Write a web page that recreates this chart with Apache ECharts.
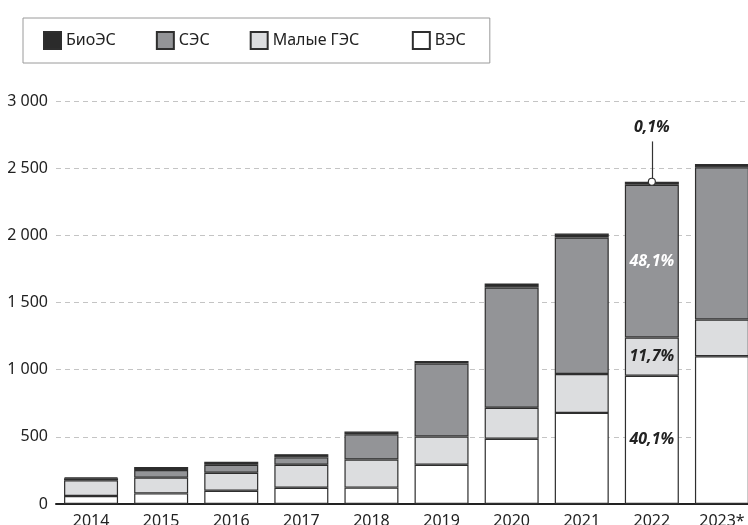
<!DOCTYPE html>
<html>
<head>
<meta charset="utf-8">
<title>ВИЭ</title>
<script src="https://cdn.jsdelivr.net/npm/echarts@6/dist/echarts.min.js"></script>
<style>
	html, body { margin: 0; padding: 0; background: #fff; }
	#chartContainer { width: 748px; height: 525px; }
</style>
</head>
<body>
<div id="chartContainer"></div>
<script>
// данные по годам
var years = ['2014', '2015', '2016', '2017', '2018', '2019', '2020', '2021', '2022', '2023*'];
var vesData = [59, 79, 99, 121, 122, 292, 486, 678, 955, 1100];
var gesData = [117, 117, 134, 171, 209, 211, 230, 290, 285, 274];
var sesData = [15, 57, 59, 55, 188, 542, 896, 1016, 1137, 1132];
var bioData = [7, 22, 22, 24, 20, 20, 30, 29, 22, 25];
var yTicks = [0, 500, 1000, 1500, 2000, 2500, 3000];

// подписи долей для 2022
var shareLabels = { ves: '40,1%', ges: '11,7%', ses: '48,1%', bio: '0,1%' };
var shareYear = '2022';
var shareIndex = years.indexOf(shareYear);

var fontName = '"Noto Sans", "Open Sans", sans-serif';
var borderColor = '#2e2e2e';

var total2022 = vesData[shareIndex] + gesData[shareIndex] + sesData[shareIndex] + bioData[shareIndex];

function withLabel(arr, text, color) {
	var out = [];
	for (var i = 0; i < arr.length; i++) {
		if (i == shareIndex) {
			out.push({
				value: arr[i],
				label: {
					show: true,
					position: 'inside',
					formatter: text,
					color: color,
					fontFamily: fontName,
					fontStyle: 'italic',
					fontWeight: 'bold',
					fontSize: 16
				}
			});
		} else {
			out.push(arr[i]);
		}
	}
	return out;
}

function formatThousands(v) {
	return String(v).replace(/\B(?=(\d{3})+$)/g, ' ');
}

var myChart = echarts.init(document.getElementById('chartContainer'));

var option = {
	animation: false,
	textStyle: { fontFamily: fontName },
	legend: {
		left: 23,
		top: 18,
		padding: [13, 24, 13, 20],
		borderColor: '#9a9a9a',
		borderWidth: 1,
		itemWidth: 17,
		itemHeight: 17,
		itemGap: 40,
		icon: 'rect',
		// у "Малые ГЭС" в оригинале отступ шире
		formatter: function(name) {
			return name == 'Малые ГЭС' ? name + '\u00a0\u00a0\u00a0' : name;
		},
		textStyle: { fontSize: 16, color: '#222', fontFamily: fontName },
		data: ['БиоЭС', 'СЭС', 'Малые ГЭС', 'ВЭС']
	},
	grid: {
		left: 56,
		width: 701,
		top: 101,
		bottom: 21,
		containLabel: false,
		outerBoundsMode: 'none'
	},
	xAxis: {
		type: 'category',
		data: years,
		axisLine: { lineStyle: { color: '#222', width: 2 } },
		axisTick: { show: false },
		axisLabel: { color: '#222', fontSize: 16, margin: 9, fontFamily: fontName }
	},
	yAxis: {
		type: 'value',
		min: yTicks[0],
		max: yTicks[yTicks.length - 1],
		interval: yTicks[1] - yTicks[0],
		axisLine: { show: false },
		axisTick: { show: false },
		axisLabel: {
			color: '#222',
			fontSize: 16,
			margin: 8,
			fontFamily: fontName,
			formatter: formatThousands
		},
		splitLine: { lineStyle: { color: '#c4c4c4', type: [5, 4], width: 1 } }
	},
	series: [
		{
			name: 'ВЭС',
			type: 'bar',
			stack: 'all',
			barWidth: 54,
			itemStyle: { color: '#ffffff', borderColor: borderColor, borderWidth: 1.2 },
			data: withLabel(vesData, shareLabels.ves, '#222')
		},
		{
			name: 'Малые ГЭС',
			type: 'bar',
			stack: 'all',
			barWidth: 54,
			itemStyle: { color: '#dcdddf', borderColor: borderColor, borderWidth: 1.2 },
			data: withLabel(gesData, shareLabels.ges, '#222')
		},
		{
			name: 'СЭС',
			type: 'bar',
			stack: 'all',
			barWidth: 54,
			itemStyle: { color: '#939497', borderColor: borderColor, borderWidth: 1.2 },
			data: withLabel(sesData, shareLabels.ses, '#ffffff')
		},
		{
			name: 'БиоЭС',
			type: 'bar',
			stack: 'all',
			barWidth: 54,
			itemStyle: { color: '#2b2b2b', borderColor: borderColor, borderWidth: 1.2 },
			data: bioData,
			// выноска 0,1%
			markLine: {
				silent: true,
				symbol: ['none', 'none'],
				lineStyle: { color: '#333', width: 1.2, type: 'solid' },
				label: {
					show: true,
					position: 'end',
					distance: 6,
					formatter: shareLabels.bio,
					color: '#222',
					fontFamily: fontName,
					fontStyle: 'italic',
					fontWeight: 'bold',
					fontSize: 16
				},
				data: [[{ coord: [shareYear, total2022] }, { coord: [shareYear, total2022 + 300] }]]
			},
			markPoint: {
				silent: true,
				symbol: 'circle',
				symbolSize: 7,
				itemStyle: { color: '#fff', borderColor: '#333', borderWidth: 1.2 },
				label: { show: false },
				data: [{ coord: [shareYear, total2022] }]
			}
		}
	]
};

myChart.setOption(option);
</script>
</body>
</html>
